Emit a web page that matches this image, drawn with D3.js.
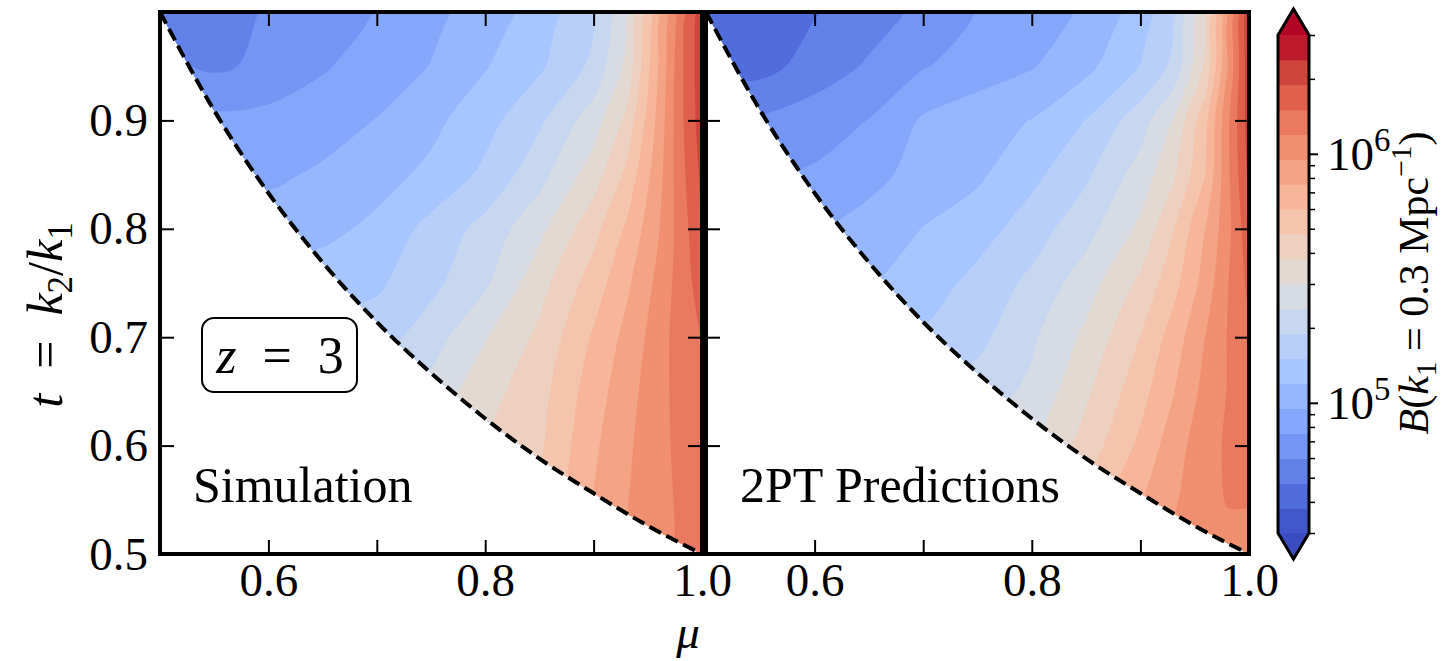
<!DOCTYPE html>
<html>
<head>
<meta charset="utf-8">
<script src="https://d3js.org/d3.v7.min.js"></script>
<style>
  body { margin: 0; background: #fff; }
  svg { display: block; }
  text { font-family: "Liberation Serif", "DejaVu Serif", serif; fill: #000; }
</style>
</head>
<body>
<svg id="chart" width="1453" height="661"></svg>
<script>
// sample grid: mu across, t upward
const muGrid = [0.50, 0.55, 0.60, 0.65, 0.70, 0.75, 0.80, 0.85, 0.90, 0.93, 0.96, 0.98, 1.00];
const tGrid = [0.50, 0.55, 0.60, 0.65, 0.70, 0.75, 0.80, 0.85, 0.90, 0.95, 1.00];

// log10 B, one row per t (t = 0.50 first)
const simLogB = [
  [5.90, 5.85, 5.80, 5.77, 5.75, 5.76, 5.66, 5.73, 5.90, 5.985, 6.065, 6.08, 6.09],
  [5.75, 5.70, 5.65, 5.62, 5.60, 5.62, 5.62, 5.69, 5.88, 5.97, 6.06, 6.085, 6.09],
  [5.60, 5.55, 5.50, 5.46, 5.45, 5.47, 5.58, 5.66, 5.86, 5.955, 6.055, 6.095, 6.11],
  [5.42, 5.38, 5.35, 5.34, 5.35, 5.41, 5.54, 5.64, 5.83, 5.935, 6.045, 6.11, 6.145],
  [5.32, 5.28, 5.24, 5.22, 5.23, 5.33, 5.47, 5.60, 5.79, 5.905, 6.03, 6.125, 6.18],
  [5.20, 5.17, 5.14, 5.13, 5.16, 5.25, 5.36, 5.54, 5.725, 5.855, 6.005, 6.12, 6.225],
  [5.06, 5.04, 5.02, 5.05, 5.10, 5.21, 5.31, 5.45, 5.644, 5.79, 5.97, 6.12, 6.27],
  [4.99, 4.97, 4.96, 4.99, 5.04, 5.10, 5.20, 5.34, 5.53, 5.70, 5.94, 6.14, 6.30],
  [4.92, 4.90, 4.91, 4.94, 4.98, 5.05, 5.14, 5.26, 5.43, 5.60, 5.91, 6.15, 6.33],
  [4.80, 4.76, 4.80, 4.865, 4.93, 4.98, 5.07, 5.16, 5.30, 5.50, 5.88, 6.15, 6.34],
  [4.74, 4.72, 4.79, 4.84, 4.88, 4.95, 5.02, 5.12, 5.26, 5.45, 5.85, 6.12, 6.34]
];

// log10 B
const ptLogB = [
  [5.75, 5.73, 5.71, 5.70, 5.70, 5.72, 5.76, 5.84, 5.95, 6.01, 6.05, 6.06, 6.06],
  [5.60, 5.58, 5.56, 5.55, 5.55, 5.57, 5.62, 5.72, 5.87, 5.96, 6.06, 6.08, 6.08],
  [5.45, 5.44, 5.42, 5.40, 5.40, 5.42, 5.47, 5.62, 5.80, 5.93, 6.04, 6.09, 6.10],
  [5.30, 5.29, 5.28, 5.27, 5.28, 5.32, 5.40, 5.56, 5.74, 5.87, 6.01, 6.08, 6.12],
  [5.16, 5.16, 5.16, 5.16, 5.19, 5.25, 5.36, 5.50, 5.68, 5.82, 5.98, 6.08, 6.15],
  [5.05, 5.06, 5.07, 5.07, 5.12, 5.21, 5.30, 5.43, 5.60, 5.74, 5.92, 6.07, 6.20],
  [4.95, 4.96, 4.97, 5.01, 5.08, 5.13, 5.23, 5.34, 5.50, 5.67, 5.88, 6.04, 6.25],
  [4.86, 4.87, 4.89, 4.95, 5.01, 5.06, 5.15, 5.26, 5.42, 5.56, 5.78, 6.05, 6.30],
  [4.76, 4.79, 4.83, 4.88, 4.99, 5.04, 5.08, 5.18, 5.33, 5.48, 5.75, 6.05, 6.33],
  [4.63, 4.64, 4.72, 4.79, 4.87, 4.92, 4.97, 5.05, 5.18, 5.30, 5.60, 5.97, 6.35],
  [4.62, 4.59, 4.67, 4.73, 4.80, 4.88, 4.93, 4.99, 5.12, 5.25, 5.58, 5.95, 6.36]
];

// edge of the allowed triangle (dashed curve)
const edgeMu = [0.50, 0.55, 0.60, 0.65, 0.70, 0.75, 0.80, 0.85, 0.90, 0.95, 1.00];
const edgeT = [1.000, 0.909, 0.833, 0.769, 0.714, 0.667, 0.625, 0.588, 0.556, 0.526, 0.500];

const xTicks = [0.6, 0.7, 0.8, 0.9, 1.0];
const yTicks = [0.5, 0.6, 0.7, 0.8, 0.9];
const cbMajor = [1e5, 1e6];
const cbMinor = [3e4, 4e4, 5e4, 6e4, 7e4, 8e4, 9e4, 2e5, 3e5, 4e5, 5e5, 6e5, 7e5, 8e5, 9e5, 2e6, 3e6];

// contour levels: 20 bands, log spaced between 3e4 and 3e6
const levelLo = 3e4, levelHi = 3e6, nBands = 20;
const levelsLog = d3.range(nBands + 1).map(i =>
  Math.log10(levelLo) + i * (Math.log10(levelHi) - Math.log10(levelLo)) / nBands);

// matplotlib coolwarm
const coolwarmStops = ["#3b4cc0", "#4d68d7", "#6282ea", "#779af7", "#8db0fe", "#a3c2ff",
  "#b8d0f9", "#ccd9ee", "#dddddd", "#ecd3c5", "#f5c4ad", "#f7b194", "#f49a7b",
  "#ec7f63", "#de604d", "#cb3e38", "#b40426"];
const coolwarm = d3.scaleLinear()
  .domain(coolwarmStops.map((d, i) => i / (coolwarmStops.length - 1)))
  .range(coolwarmStops)
  .interpolate(d3.interpolateRgb);
const bandColor = k => k >= nBands ? coolwarm(1) : coolwarm((k + 0.5) / nBands);

const svg = d3.select("#chart");
const yTop = 12, yBot = 554;
const fontSize = 47;

const panels = [
  { x0: 160, x1: 702, values: simLogB, label: "Simulation", labelX: 193, left: true },
  { x0: 706, x1: 1249, values: ptLogB, label: "2PT Predictions", labelX: 740, left: false }
];

const nx = muGrid.length, ny = tGrid.length;
const idxToMu = d3.scaleLinear().domain(d3.range(nx)).range(muGrid);
const idxToT = d3.scaleLinear().domain(d3.range(ny)).range(tGrid);

const ringLine = d3.line().curve(d3.curveCatmullRomClosed.alpha(0.5));
const edgeLine = d3.line().curve(d3.curveMonotoneX);

panels.forEach((p, pi) => {
  const x = d3.scaleLinear().domain([0.5, 1.0]).range([p.x0, p.x1]);
  const y = d3.scaleLinear().domain([0.5, 1.0]).range([yBot, yTop]);
  const g = svg.append("g");

  const edgePts = edgeMu.map((m, i) => [x(m), y(edgeT[i])]);
  const edgePath = edgeLine(edgePts);

  g.append("clipPath").attr("id", "clip" + pi)
    .append("path")
    .attr("d", edgePath + `L${x(1)},${y(1)}Z`);

  // filled contours
  const flat = [];
  p.values.forEach(row => row.forEach(v => flat.push(v)));
  const contours = d3.contours().size([nx, ny]).thresholds(levelsLog)(flat);

  const toPx = c => [x(idxToMu(c[0] - 0.5)), y(idxToT(c[1] - 0.5))];

  g.append("g").attr("clip-path", `url(#clip${pi})`)
    .selectAll("path")
    .data(contours)
    .join("path")
    .attr("fill", (d, k) => bandColor(k))
    .attr("fill-rule", "evenodd")
    .attr("d", d => d.coordinates.map(poly =>
      poly.map(ring => ringLine(ring.slice(0, -1).map(toPx))).join("")).join(""));

  // dashed edge of the triangle
  g.append("path")
    .attr("d", edgePath)
    .attr("fill", "none")
    .attr("stroke", "#000")
    .attr("stroke-width", 4)
    .attr("stroke-dasharray", "13,6");

  // ticks on every side, pointing in
  const fmt = d => (Math.round(d * 10) % 2 === 0) ? d3.format(".1f")(d) : "";
  const styleAxis = a => {
    a.select(".domain").remove();
    a.selectAll("line").attr("stroke", "#000").attr("stroke-width", 2);
    a.attr("font-family", "'Liberation Serif', 'DejaVu Serif', serif").attr("font-size", fontSize);
    a.selectAll("text").attr("fill", "#000");
  };
  g.append("g").attr("transform", `translate(0,${yBot})`)
    .call(d3.axisBottom(x).tickValues(xTicks).tickSize(-14).tickPadding(9).tickFormat(fmt))
    .call(styleAxis);
  g.append("g").attr("transform", `translate(0,${yTop})`)
    .call(d3.axisTop(x).tickValues(xTicks).tickSize(-14).tickFormat(""))
    .call(styleAxis);
  g.append("g").attr("transform", `translate(${p.x0},0)`)
    .call(d3.axisLeft(y).tickValues(yTicks).tickSize(-14).tickPadding(12)
      .tickFormat(p.left ? d3.format(".1f") : ""))
    .call(styleAxis);
  g.append("g").attr("transform", `translate(${p.x1},0)`)
    .call(d3.axisRight(y).tickValues(yTicks).tickSize(-14).tickFormat(""))
    .call(styleAxis);

  g.append("rect")
    .attr("x", p.x0).attr("y", yTop)
    .attr("width", p.x1 - p.x0).attr("height", yBot - yTop)
    .attr("fill", "none").attr("stroke", "#000").attr("stroke-width", 4);

  g.append("text")
    .attr("x", p.labelX).attr("y", 502)
    .attr("font-size", 50)
    .text(p.label);
});

// helper for text with italics, sub- and superscripts
function mathText(sel, parts, size) {
  let shift = 0;
  parts.forEach(q => {
    const target = q.sub ? 0.2 * size : q.sup ? -0.4 * size : 0;
    const ts = sel.append("tspan").text(q.t).attr("dy", target - shift);
    shift = target;
    if (q.it) ts.attr("font-style", "italic");
    if (q.sub || q.sup) ts.attr("font-size", size * 0.7);
  });
}

// z = 3 box
svg.append("rect")
  .attr("x", 202).attr("y", 318).attr("width", 155).attr("height", 74)
  .attr("rx", 12).attr("fill", "#fff").attr("stroke", "#000").attr("stroke-width", 2);
mathText(svg.append("text").attr("x", 280).attr("y", 373).attr("text-anchor", "middle")
  .attr("font-size", 52), [{ t: "z", it: true }, { t: "\u2002=\u20023" }], 52);

// axis titles
svg.append("text")
  .attr("x", 688).attr("y", 648)
  .attr("text-anchor", "middle")
  .attr("font-size", fontSize)
  .attr("font-style", "italic")
  .text("μ");

mathText(svg.append("text")
  .attr("transform", "translate(62,315) rotate(-90)")
  .attr("text-anchor", "middle")
  .attr("font-size", 50),
  [{ t: "t", it: true }, { t: "\u2002=\u2002" }, { t: "k", it: true }, { t: "2", sub: true },
   { t: "/" }, { t: "k", it: true }, { t: "1", sub: true }], 50);

// colour bar
const cbX = 1278, cbW = 31, cbTop = 35, cbBot = 533, cbTip = 26;
const cbScale = d3.scaleLog().domain([levelLo, levelHi]).range([cbBot, cbTop]);
const cb = svg.append("g");

cb.selectAll("rect")
  .data(d3.range(nBands))
  .join("rect")
  .attr("x", cbX)
  .attr("width", cbW)
  .attr("y", k => cbScale(Math.pow(10, levelsLog[k + 1])))
  .attr("height", k => cbScale(Math.pow(10, levelsLog[k])) - cbScale(Math.pow(10, levelsLog[k + 1])) + 0.5)
  .attr("fill", k => bandColor(k));

cb.append("path")
  .attr("d", `M${cbX},${cbTop}L${cbX + cbW / 2},${cbTop - cbTip}L${cbX + cbW},${cbTop}Z`)
  .attr("fill", coolwarm(1));
cb.append("path")
  .attr("d", `M${cbX},${cbBot}L${cbX + cbW / 2},${cbBot + cbTip}L${cbX + cbW},${cbBot}Z`)
  .attr("fill", coolwarm(0));
cb.append("path")
  .attr("d", `M${cbX},${cbTop}L${cbX + cbW / 2},${cbTop - cbTip}L${cbX + cbW},${cbTop}` +
    `L${cbX + cbW},${cbBot}L${cbX + cbW / 2},${cbBot + cbTip}L${cbX},${cbBot}Z`)
  .attr("fill", "none").attr("stroke", "#000").attr("stroke-width", 3);

cb.append("g").attr("transform", `translate(${cbX + cbW},0)`)
  .call(d3.axisRight(cbScale).tickValues(cbMinor).tickSize(6).tickFormat(""))
  .call(a => { a.select(".domain").remove(); a.selectAll("line").attr("stroke", "#000").attr("stroke-width", 1.5); });
cb.append("g").attr("transform", `translate(${cbX + cbW},0)`)
  .call(d3.axisRight(cbScale).tickValues(cbMajor).tickSize(9).tickFormat(""))
  .call(a => { a.select(".domain").remove(); a.selectAll("line").attr("stroke", "#000").attr("stroke-width", 2); });

cbMajor.forEach(v => {
  mathText(cb.append("text")
    .attr("x", cbX + cbW + 18).attr("y", cbScale(v) + 16)
    .attr("font-size", fontSize),
    [{ t: "10" }, { t: String(Math.round(Math.log10(v))), sup: true }], fontSize);
});

mathText(svg.append("text")
  .attr("transform", "translate(1428,283) rotate(-90)")
  .attr("text-anchor", "middle")
  .attr("font-size", 42),
  [{ t: "B", it: true }, { t: "(" }, { t: "k", it: true }, { t: "1", sub: true },
   { t: " = 0.3 Mpc" }, { t: "−1", sup: true }, { t: ")" }], 42);
</script>
</body>
</html>
